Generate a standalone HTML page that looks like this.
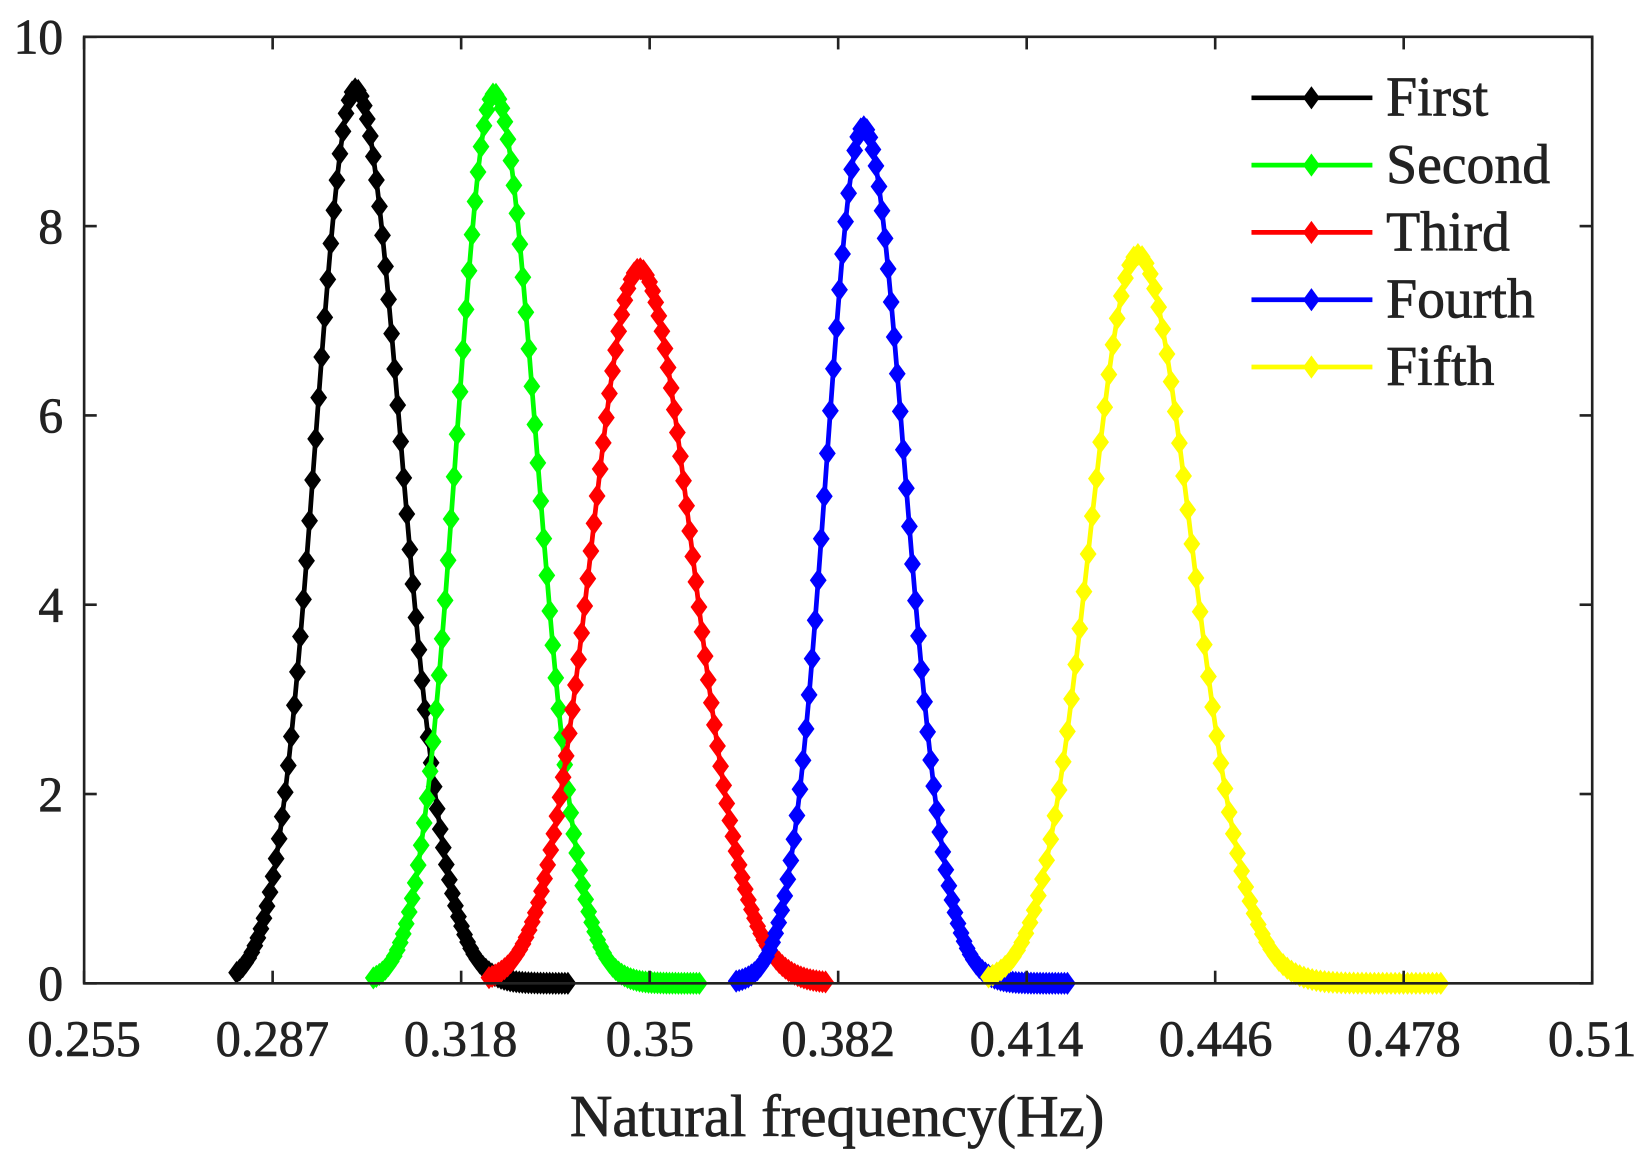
<!DOCTYPE html>
<html><head><meta charset="utf-8">
<style>
html,body{margin:0;padding:0;background:#fff;}
svg{display:block;}
text{font-family:"Liberation Serif",serif;fill:#222;stroke:#222;stroke-width:0.7;}
</style></head>
<body>
<svg id="s" width="1649" height="1168" viewBox="0 0 1568 1110.6" preserveAspectRatio="none" xmlns="http://www.w3.org/2000/svg">
<rect x="0" y="0" width="1568" height="1111" fill="#fff"/>
<g id="curves"></g>
<rect x="80" y="35" width="1434" height="900" fill="none" stroke="#222" stroke-width="2.5"/>
<g id="ticks" stroke="#222" stroke-width="2.5"></g>
<g font-size="47" text-anchor="end">
<text x="60" y="951">0</text>
<text x="60" y="771">2</text>
<text x="60" y="591">4</text>
<text x="60" y="411">6</text>
<text x="60" y="231">8</text>
<text x="60" y="51">10</text>
</g>
<g font-size="48" text-anchor="middle">
<text x="80" y="1004">0.255</text>
<text x="259" y="1004">0.287</text>
<text x="438" y="1004">0.318</text>
<text x="618" y="1004">0.35</text>
<text x="797" y="1004">0.382</text>
<text x="976" y="1004">0.414</text>
<text x="1156" y="1004">0.446</text>
<text x="1335" y="1004">0.478</text>
<text x="1514" y="1004">0.51</text>
</g>
<text x="796" y="1080" font-size="56" text-anchor="middle">Natural frequency(Hz)</text>
<g id="legend"></g>
</svg>
<script>
var NS="http://www.w3.org/2000/svg";
function el(t,a,p){var e=document.createElementNS(NS,t);for(var k in a)e.setAttribute(k,a[k]);p.appendChild(e);return e;}
var tk=document.getElementById('ticks');
for(var i=0;i<=8;i++){var x=80+i*179.25;el('line',{x1:x,y1:935,x2:x,y2:923},tk);el('line',{x1:x,y1:35,x2:x,y2:47},tk);}
for(var j=0;j<=5;j++){var y=935-j*180;el('line',{x1:80,y1:y,x2:92,y2:y},tk);el('line',{x1:1514,y1:y,x2:1502,y2:y},tk);}
var cs=[
 {c:'#000',m:338,h:9.45,sl:38,sr:43,a:225,b:540},
 {c:'#00ff00',m:470,h:9.4,sl:36,sr:40,a:355,b:665},
 {c:'#ff0000',m:608,h:7.55,sl:46,sr:50,a:465,b:785},
 {c:'#0000ff',m:821,h:9.05,sl:35,sr:39,a:700,b:1015},
 {c:'#ffff00',m:1082,h:7.7,sl:46,sr:51,a:940,b:1370}
];
var g=document.getElementById('curves');
function dia(x,y,c,p){el('polygon',{points:(x-8)+','+y+' '+x+','+(y-11)+' '+(x+8)+','+y+' '+x+','+(y+11),fill:c},p);}
cs.forEach(function(s){
 var pts=[],n=110;
 for(var i=0;i<n;i++){var x=s.a+(s.b-s.a)*i/(n-1);var sg=x<s.m?s.sl:s.sr;var v=s.h*Math.exp(-0.5*Math.pow((x-s.m)/sg,2));pts.push([x,935-v*90]);}
 el('polyline',{points:pts.map(function(p){return p[0].toFixed(1)+','+p[1].toFixed(1)}).join(' '),fill:'none',stroke:s.c,'stroke-width':4.5},g);
 pts.forEach(function(p){dia(p[0],p[1],s.c,g);});
});
var lg=document.getElementById('legend');
var names=['First','Second','Third','Fourth','Fifth'];
names.forEach(function(nm,i){var y=93+i*64;
 el('line',{x1:1190,y1:y,x2:1305,y2:y,stroke:cs[i].c,'stroke-width':4.5},lg);
 dia(1247,y,cs[i].c,lg);
 var t=el('text',{x:1318,y:y+17,'font-size':53},lg);t.textContent=nm;});
</script>
</body></html>
